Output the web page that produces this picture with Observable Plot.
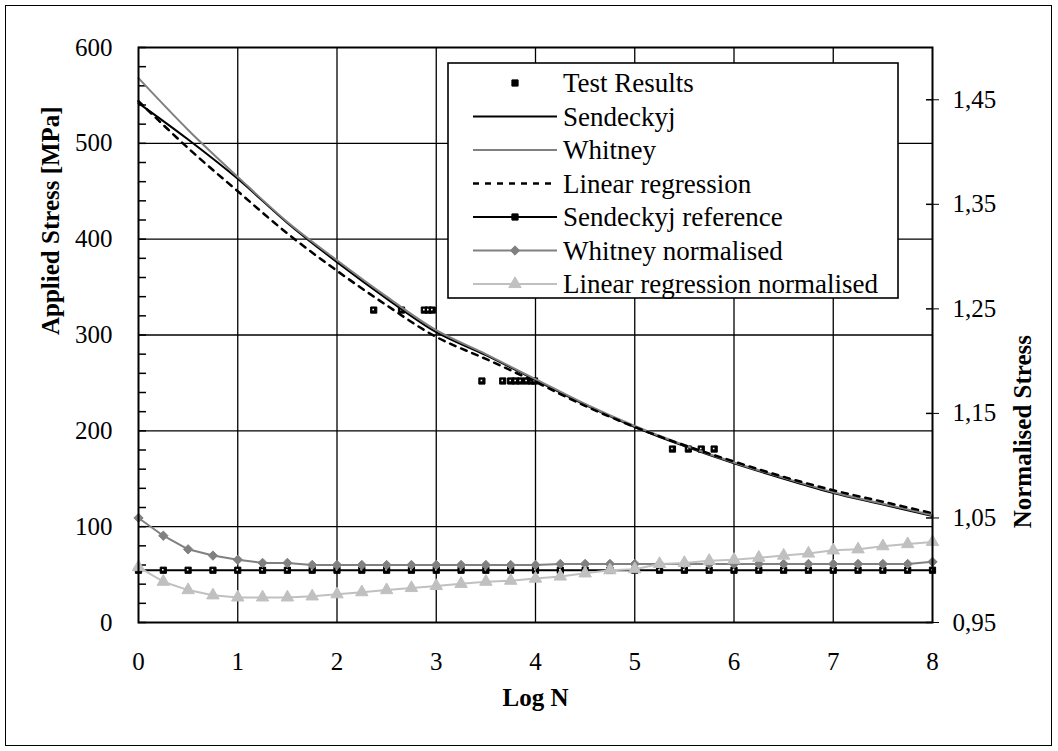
<!DOCTYPE html>
<html><head><meta charset="utf-8">
<script src="https://cdn.jsdelivr.net/npm/d3@7"></script>
<script src="https://cdn.jsdelivr.net/npm/@observablehq/plot@0.6"></script>
<style>
html,body{margin:0;padding:0;background:#fff;}
#wrap{position:relative;width:1058px;height:751px;overflow:hidden;}
#border{position:absolute;left:5px;top:5px;width:1045px;height:739px;border:1.5px solid #000;pointer-events:none;}
</style></head><body>
<div id="wrap"><div id="chart"></div><div id="border"></div></div>
<script>
// ---- data ----
const curveLogN = [0,0.5,1,1.5,2,2.5,3,3.5,4,4.5,5,5.5,6,6.5,7,7.5,8];
const sendeckyj = [542,504,463,417,376,338,303,279,253,227,204,184,166,150,135,123,111];
const whitney   = [568,514,465,418,378,340,305,280,254,228,205,185,167,151,136,124,112];
const linearRegression = [544,495,450,406,367,331,298,275,251,226,204,185,168,152,138,126,114];

const normLogN = [0,0.25,0.5,0.75,1,1.25,1.5,1.75,2,2.25,2.5,2.75,3,3.25,3.5,3.75,4,4.25,4.5,4.75,5,5.25,5.5,5.75,6,6.25,6.5,6.75,7,7.25,7.5,7.75,8];
const sendeckyjRef = [1,1,1,1,1,1,1,1,1,1,1,1,1,1,1,1,1,1,1,1,1,1,1,1,1,1,1,1,1,1,1,1,1];
const whitneyNorm = [1.050,1.033,1.020,1.014,1.010,1.007,1.007,1.005,1.005,1.005,1.005,1.005,1.005,1.005,1.005,1.005,1.005,1.006,1.006,1.006,1.006,1.006,1.006,1.006,1.006,1.006,1.006,1.006,1.006,1.006,1.006,1.006,1.008];
const linRegNorm = [1.003,0.989,0.981,0.976,0.974,0.974,0.974,0.975,0.977,0.979,0.981,0.983,0.985,0.987,0.989,0.990,0.992,0.994,0.997,1.000,1.001,1.006,1.007,1.009,1.010,1.012,1.014,1.016,1.019,1.020,1.023,1.025,1.027];

const testLogN   = [2.37,2.65,2.88,2.92,2.96,3.46,3.67,3.75,3.80,3.85,3.91,3.96,3.99,5.38,5.54,5.67,5.80];
const testStress = [326,326,326,326,326,252,252,252,252,252,252,252,252,181,181,181,181];

const xTicks = [0,1,2,3,4,5,6,7,8];
const leftTicks = [0,100,200,300,400,500,600];
const leftMinorStep = 20;
const rightTicks = [0.95,1.05,1.15,1.25,1.35,1.45];
const leftDomain = [0,600];
const rightDomain = [0.95,1.50];

const legendLabels = ["Test Results","Sendeckyj","Whitney","Linear regression","Sendeckyj reference","Whitney normalised","Linear regression normalised"];

// ---- helpers ----
const toLeft = v => leftDomain[0] + (v - rightDomain[0]) / (rightDomain[1] - rightDomain[0]) * (leftDomain[1] - leftDomain[0]);
const fromLeft = s => rightDomain[0] + (s - leftDomain[0]) / (leftDomain[1] - leftDomain[0]) * (rightDomain[1] - rightDomain[0]);
const curves = curveLogN.map((x,i)=>({x, s:sendeckyj[i], w:whitney[i], lr:linearRegression[i]}));
const norms = normLogN.map((x,i)=>({x, ref:toLeft(sendeckyjRef[i]), wn:toLeft(whitneyNorm[i]), ln:toLeft(linRegNorm[i])}));
const tests = testLogN.map((x,i)=>({x, y:testStress[i]}));
const minorTicks = d3.range(leftDomain[0], leftDomain[1] + 1, leftMinorStep);

const W = 1058, H = 751, mL = 138, mR = 126, mT = 47, mB = 129;
const plotW = W - mL - mR;
const GRAY = "#808080", LIGHT = "#c0c0c0";
const FONT = "'Liberation Serif','Times New Roman','DejaVu Serif',serif";

const squareMarks = (data, yKey) => [
  Plot.dot(data, {x: "x", y: yKey, symbol: "square", r: 3.5, fill: "black", stroke: "black", strokeWidth: 1}),
  Plot.dot(data, {x: "x", y: yKey, symbol: "square", r: 0.9, fill: "white", dx: -0.5, dy: -0.5})
];

const chart = Plot.plot({
  width: W, height: H,
  marginLeft: mL, marginRight: mR, marginTop: mT, marginBottom: mB,
  x: {domain: [0, 8]},
  y: {domain: leftDomain},
  style: {fontSize: "25px", color: "black", background: "white"},
  marks: [
    Plot.gridX(xTicks.slice(1, -1), {stroke: "black", strokeOpacity: 1, strokeWidth: 1.3}),
    Plot.gridY(leftTicks.slice(1, -1), {stroke: "black", strokeOpacity: 1, strokeWidth: 1.3}),
    Plot.tickY(minorTicks, {y: d => d, insetRight: plotW - 8, stroke: "black", strokeWidth: 1.5}),
    Plot.tickY(rightTicks.map(toLeft), {y: d => d, insetLeft: plotW - 6, stroke: "black", strokeWidth: 1.5}),
    // test results
    ...squareMarks(tests, "y"),
    // curves
    Plot.line(curves, {x: "x", y: "s", curve: "catmull-rom", stroke: "black", strokeWidth: 2}),
    Plot.line(curves, {x: "x", y: "w", curve: "catmull-rom", stroke: GRAY, strokeWidth: 2}),
    Plot.line(curves, {x: "x", y: "lr", curve: "catmull-rom", stroke: "black", strokeWidth: 2.5, strokeDasharray: "6,6"}),
    // normalised series
    Plot.line(norms, {x: "x", y: "ref", stroke: "black", strokeWidth: 2}),
    ...squareMarks(norms, "ref"),
    Plot.line(norms, {x: "x", y: "wn", stroke: GRAY, strokeWidth: 2}),
    Plot.dot(norms, {x: "x", y: "wn", symbol: "diamond2", r: 4.2, fill: GRAY, stroke: GRAY, strokeWidth: 1}),
    Plot.line(norms, {x: "x", y: "ln", stroke: LIGHT, strokeWidth: 2}),
    Plot.dot(norms, {x: "x", y: "ln", symbol: "triangle", r: 4.6, fill: LIGHT, stroke: LIGHT, strokeWidth: 1}),
    Plot.frame({stroke: "black", strokeWidth: 2}),
    // axes
    Plot.axisX(xTicks, {anchor: "bottom", tickSize: 0, tickPadding: 30, label: null}),
    Plot.axisY(leftTicks, {anchor: "left", tickSize: 0, tickPadding: 26, label: null}),
    Plot.axisY(rightTicks.map(toLeft), {anchor: "right", tickSize: 6, tickPadding: 14, label: null,
      tickFormat: d => fromLeft(d).toFixed(2).replace(".", ",")}),
    // titles
    Plot.text(["Applied Stress [MPa]"], {text: d => d, frameAnchor: "left", dx: -88, rotate: -90, fontWeight: "bold", fontSize: 25}),
    Plot.text(["Normalised Stress"], {text: d => d, frameAnchor: "right", dx: 90, rotate: -90, fontWeight: "bold", fontSize: 25}),
    Plot.text(["Log N"], {text: d => d, frameAnchor: "bottom", dy: 83, fontWeight: "bold", fontSize: 25})
  ]
});
document.getElementById("chart").appendChild(chart);

// ---- legend (overlaid in the plot area) ----
const svg = d3.select(chart);
const lg = svg.append("g").attr("font-size", 27).attr("text-anchor", "start");
lg.append("rect").attr("x", 448).attr("y", 63).attr("width", 450).attr("height", 235)
  .attr("fill", "white").attr("stroke", "black").attr("stroke-width", 1.6);
const rowY = i => 83 + i * 33.5;
const sym = (type, r) => d3.symbol(type, r * r * Math.PI)();
const styles = [
  {line: null, marker: {t: d3.symbolSquare, r: 3.5, fill: "black", stroke: "black", sw: 1}},
  {line: {stroke: "black", sw: 2}},
  {line: {stroke: GRAY, sw: 2}},
  {line: {stroke: "black", sw: 2.5, dash: "6,6"}},
  {line: {stroke: "black", sw: 2}, marker: {t: d3.symbolSquare, r: 3.5, fill: "black", stroke: "black", sw: 1}},
  {line: {stroke: GRAY, sw: 2}, marker: {t: d3.symbolDiamond2, r: 4.2, fill: GRAY, stroke: GRAY, sw: 1}},
  {line: {stroke: LIGHT, sw: 2}, marker: {t: d3.symbolTriangle, r: 4.6, fill: LIGHT, stroke: LIGHT, sw: 1}}
];
legendLabels.forEach((label, i) => {
  const y = rowY(i), st = styles[i];
  if (st.line) {
    lg.append("line").attr("x1", 473).attr("x2", 557).attr("y1", y).attr("y2", y)
      .attr("stroke", st.line.stroke).attr("stroke-width", st.line.sw)
      .attr("stroke-dasharray", st.line.dash || null);
  }
  if (st.marker) {
    lg.append("path").attr("d", sym(st.marker.t, st.marker.r)).attr("transform", `translate(515,${y})`)
      .attr("fill", st.marker.fill).attr("stroke", st.marker.stroke).attr("stroke-width", st.marker.sw);
  }
  lg.append("text").attr("x", 563).attr("y", y).attr("dy", "0.35em").text(label);
});

// serif font on every text element
svg.attr("font-family", FONT).style("font-family", FONT);
svg.selectAll("g").attr("font-family", FONT);
svg.selectAll("text").attr("font-family", FONT).style("font-family", FONT, "important");
</script>
</body></html>
